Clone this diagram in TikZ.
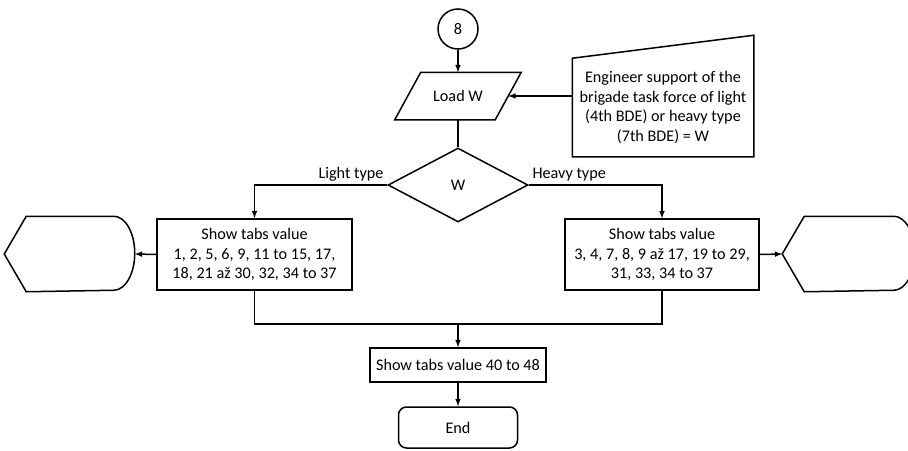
\documentclass[tikz,border=0pt]{standalone}
\usepackage{fontspec}
\setmainfont{Carlito}
\usetikzlibrary{shapes.geometric}

\begin{document}
\begin{tikzpicture}[x=1pt,y=-1pt,line width=1.5pt,
        every node/.style={font=\fontsize{16.2}{19.5}\selectfont},
        box/.style={draw,align=center,inner sep=2pt}]
        \useasboundingbox (0,0) rectangle (908,450);

        % 1. Connector 8 and Load W
        \node (c8) at (458,29) [circle,draw,minimum size=40pt,inner sep=0pt] {8};
        \node (load) [below of = c8, node distance = 67pt, minimum width=99pt, minimum height=46pt] {Load W};
        \draw ([xshift=13pt]load.north west) -- ([xshift=13pt]load.north east)
              -- ([xshift=-13pt]load.south east) -- ([xshift=-13pt]load.south west) -- cycle;
        \draw[-latex] (c8.south) -- (load.north);

        % 2. Manual input W
        \node (eng) at (663,107.5) [minimum width=180pt,minimum height=97pt,align=center] {Engineer support of the\\brigade task force of light\\(4th BDE) or heavy type\\(7th BDE) = W};
        \draw (eng.south west) -- (eng.south east) -- ([yshift=23pt]eng.north east) -- (eng.north west) -- cycle;
        \draw[-latex] (eng.west |- load.east) -- (load.east);

        % 3. Decision W
        \node (dec) [below of = load, node distance = 89pt, diamond, minimum width=140pt, minimum height=74pt, inner sep=0pt, draw] {W};
        \draw[-] (load.south) -- (dec.north);

        % 4. Both branches
        \node (showL) at (254.5,254.5) [box,minimum width=195pt,minimum height=71pt] {Show tabs value\\1, 2, 5, 6, 9, 11 to 15, 17,\\18, 21 až 30, 32, 34 to 37};
        \node (showR) at (662,254.5) [box,minimum width=194pt,minimum height=71pt] {Show tabs value\\3, 4, 7, 8, 9 až 17, 19 to 29,\\31, 33, 34 to 37};
        \draw[-latex] (dec.west) node[above left,inner sep=3pt] {Light type} -| (showL.north);
        \draw[-latex] (dec.east) node[above right,inner sep=3pt] {Heavy type} -| (showR.north);

        % Display symbols left and right
        \node (dispL) at (69.5,254) [minimum width=129pt,minimum height=74pt] {};
        \draw (dispL.west) -- ([xshift=22pt]dispL.north west) -- ([xshift=-21pt]dispL.north east)
              arc[start angle=90,end angle=-90,x radius=21pt,y radius=37pt] -- ([xshift=22pt]dispL.south west) -- cycle;
        \node (dispR) at (848.5,254) [minimum width=131pt,minimum height=74pt] {};
        \draw (dispR.west) -- ([xshift=22pt]dispR.north west) -- ([xshift=-21pt]dispR.north east)
              arc[start angle=90,end angle=-90,x radius=21pt,y radius=37pt] -- ([xshift=22pt]dispR.south west) -- cycle;
        \draw[-latex] (showL.west) -- (dispL.east);
        \draw[-latex] (showR.east) -- (dispR.west);

        % 5. Merge, tabs 40 to 48 and End
        \coordinate (mrg) at (458,324);
        \draw[-] (showL.south) |- (mrg) -| (showR.south);
        \node (showAll) at (458,365) [box,minimum width=176pt,minimum height=34pt] {Show tabs value 40 to 48};
        \draw[-latex] (mrg) -- (showAll.north);
        \node (end) [below of = showAll, node distance = 62.5pt, box, rounded corners=8pt, minimum width=119pt, minimum height=41pt] {End};
        \draw[-latex] (showAll.south) -- (end.north);

    \end{tikzpicture}
\end{document}
